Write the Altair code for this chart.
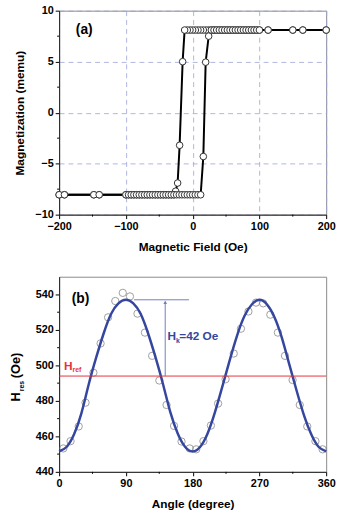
import altair as alt
import pandas as pd

# ---------------- Panel (a): hysteresis loop ----------------
desc_H = [200, 165, 150, 113, 100, 96, 92, 88, 84, 80, 76, 72, 68, 64, 60, 56, 52, 48, 44, 40,
          36, 32, 28, 24, 20, 16, 12, 8, 4, 0, -4, -8, -12, -15, -19.5, -22.5, -25.5,
          -28, -32, -36, -40, -44, -48, -52, -56, -60, -64, -68, -72, -76, -80, -84, -88, -92,
          -96, -100, -140, -148, -192, -200]
desc_M = [8.1] * 33 + [5.0, -3.2, -6.9, -7.7] + [-8.05] * 23

asc_H = [-200, -192, -148, -140, -100, -96, -92, -88, -84, -80, -76, -72, -68, -64, -60, -56,
         -52, -48, -44, -40, -36, -32, -28, -24, -20, -16, -12, -8, -4, 0, 4, 8, 12,
         16, 19.5, 24, 28, 32, 36, 40, 44, 48, 52, 56, 60, 64, 68, 72, 76, 80, 84, 88, 92, 96,
         100, 113, 150, 165, 200]
asc_M = [-8.05] * 33 + [-4.3, 4.95, 7.5] + [8.1] * 23

loop = pd.DataFrame({
    "H": desc_H + asc_H,
    "M": desc_M + asc_M,
    "branch": ["desc"] * len(desc_H) + ["asc"] * len(asc_H),
    "order": list(range(len(desc_H))) + list(range(len(asc_H))),
})

FONT = "Liberation Sans"
GRIDC = "#9aa3d6"

xa = alt.X("H:Q", scale=alt.Scale(domain=[-200, 200], nice=False),
           axis=alt.Axis(values=[-200, -100, 0, 100, 200], title="Magnetic Field (Oe)",
                         grid=True, gridColor=GRIDC, gridDash=[5, 4], gridWidth=0.8,
                         labelOverlap=False, labelFlush=False, tickCount=5))
ya = alt.Y("M:Q", scale=alt.Scale(domain=[-10, 10], nice=False),
           axis=alt.Axis(values=[-10, -5, 0, 5, 10], title="Magnetization (memu)",
                         grid=True, gridColor=GRIDC, gridDash=[5, 4], gridWidth=0.8,
                         labelOverlap=False, labelFlush=False, tickCount=5))

lines_a = alt.Chart(loop).mark_line(color="black", strokeWidth=2).encode(
    x=xa, y=ya, detail="branch:N", order="order:Q")
pts_a = alt.Chart(loop).mark_point(filled=True, fill="white", stroke="#333",
                                    strokeWidth=1, size=45, opacity=1).encode(
    x="H:Q", y="M:Q")

minor_x_a = [-150, -50, 50, 150]
minor_y_a = [-7.5, -2.5, 2.5, 7.5]
mx_a = alt.Chart(pd.DataFrame({"H": minor_x_a})).mark_rule(color="black").encode(
    x="H:Q", y=alt.value(207), y2=alt.value(209))
my_a = alt.Chart(pd.DataFrame({"M": minor_y_a})).mark_rule(color="black").encode(
    y="M:Q", x=alt.value(0), x2=alt.value(-2))
label_a = alt.Chart(pd.DataFrame({"t": ["(a)"], "H": [-175], "M": [8.1]})).mark_text(
    font=FONT, fontWeight="bold", fontSize=14, align="left", baseline="middle").encode(
    x="H:Q", y="M:Q", text="t:N")

panel_a = alt.layer(lines_a, pts_a, mx_a, my_a, label_a).properties(width=271, height=207)

# ---------------- Panel (b): FMR angular dependence ----------------
meas_angle = [5.7, 15.4, 26.4, 35.6, 46.2, 55.9, 66, 75.7, 85.8, 95.5, 105.6, 115.7, 125.4,
              135.1, 144.8, 154.9, 165, 176, 184.8, 194.5, 204.6, 214.3, 224.4, 235.4, 245.1,
              255.2, 265.4, 275.1, 284.7, 294.9, 304.5, 314.7, 324.4, 334.5, 345.5, 355.2]
meas_H = [453.2, 457.3, 465.6, 479, 495.9, 512.4, 527.1, 536.3, 540.9, 538.9, 529.2, 518.5,
          505.4, 491.5, 477.7, 465.9, 457.1, 453.2, 452.7, 457.3, 466.1, 478.5, 492.2, 506.7,
          520.7, 530.4, 535.4, 535, 528.6, 518.5, 505.4, 491.8, 477.7, 465.6, 457.3, 452.7]

fit_angle = [0, 10, 20, 30, 40, 50, 60, 70, 80, 90, 100, 110, 120, 130, 140, 150, 160, 170, 180,
             190, 200, 210, 220, 230, 240, 250, 260, 270, 280, 290, 300, 310, 320, 330, 340, 350, 360]
fit_H = [451.5, 454, 461, 473, 489.5, 504.5, 518, 529, 535, 537, 535, 529, 518, 504.5, 489.5,
         473.5, 461.5, 454, 451.5, 454, 461.5, 473.5, 488, 503, 517, 528, 534.5, 537, 534.5,
         527.5, 516, 501, 486, 472, 461, 454, 451.5]

H_ref = 494
H_k_top = 537

meas = pd.DataFrame({"angle": meas_angle, "Hr": meas_H})
fit = pd.DataFrame({"angle": fit_angle, "Hr": fit_H})

BLUE = "#34469e"
RED = "#e8323c"
ABLUE = "#6f7fbf"
xb = alt.X("angle:Q", scale=alt.Scale(domain=[0, 360], nice=False),
           axis=alt.Axis(values=[0, 90, 180, 270, 360], title="Angle (degree)", grid=False,
                         labelOverlap=False, labelFlush=False, tickCount=5))
yb = alt.Y("Hr:Q", scale=alt.Scale(domain=[440, 550], nice=False),
           axis=alt.Axis(values=[440, 460, 480, 500, 520, 540], title=None, grid=False,
                         labelOverlap=False, labelFlush=False, tickCount=6))

pts_b = alt.Chart(meas).mark_point(filled=False, color="#777", strokeWidth=1, size=55).encode(
    x=xb, y=yb)
fit_b = alt.Chart(fit).mark_line(color=BLUE, strokeWidth=2.5, interpolate="natural").encode(
    x="angle:Q", y="Hr:Q")

def seg(a1, a2, h1, h2, color):
    return alt.Chart(pd.DataFrame({"a1": [a1], "a2": [a2], "h1": [h1], "h2": [h2]})).mark_rule(
        color=color, strokeWidth=1).encode(x="a1:Q", x2="a2", y="h1:Q", y2="h2")

ref_b = seg(0, 360, H_ref, H_ref, RED)
hk_h = seg(101, 175, H_k_top, H_k_top, ABLUE)
hk_v = seg(143, 143, H_ref, H_k_top - 1, ABLUE)
hk_arrow = alt.Chart(pd.DataFrame({"angle": [143], "Hr": [H_k_top - 1.5]})).mark_point(
    shape="triangle-up", filled=True, color=ABLUE, size=14, opacity=1).encode(
    x="angle:Q", y="Hr:Q")

def txt(t, x, y, size, color):
    return alt.Chart(pd.DataFrame({"t": [t], "angle": [x], "Hr": [y]})).mark_text(
        font=FONT, fontWeight="bold", fontSize=size, color=color, align="left",
        baseline="middle").encode(x="angle:Q", y="Hr:Q", text="t:N")

label_b = txt("(b)", 17, 537.5, 14, "black")
hk_H = txt("H", 146, 516.8, 12, BLUE)
hk_k = txt("k", 157.5, 513.8, 7, BLUE)
hk_rest = txt("=42 Oe", 162, 516.8, 12, BLUE)
ref_H = txt("H", 6.5, 499.7, 12, RED)
ref_sub = txt("ref", 18, 497.3, 7, RED)

# rotated y-axis title "H_res (Oe)"
def ytxt(t, x, y, size):
    return alt.Chart(pd.DataFrame({"t": [t]})).mark_text(
        font=FONT, fontWeight="bold", fontSize=size, color="black", angle=270,
        align="center", baseline="middle").encode(x=alt.value(x), y=alt.value(y), text="t:N")

yt_H = ytxt("H", -44, 122, 13)
yt_sub = ytxt("res", -38, 111, 7)
yt_rest = ytxt("(Oe)", -44, 90, 13)

minor_x_b = [45, 135, 225, 315]
minor_y_b = [450, 470, 490, 510, 530]
mx_b = alt.Chart(pd.DataFrame({"angle": minor_x_b})).mark_rule(color="black").encode(
    x="angle:Q", y=alt.value(198), y2=alt.value(200))
my_b = alt.Chart(pd.DataFrame({"Hr": minor_y_b})).mark_rule(color="black").encode(
    y="Hr:Q", x=alt.value(0), x2=alt.value(-2))

panel_b = alt.layer(pts_b, fit_b, ref_b, hk_h, hk_v, hk_arrow, label_b, hk_H, hk_k, hk_rest,
                    ref_H, ref_sub, yt_H, yt_sub, yt_rest, mx_b, my_b).properties(
    width=271, height=198)

chart = alt.vconcat(panel_a, panel_b, spacing=63, bounds="flush").properties(
    padding={"left": 9, "top": 0, "right": 2, "bottom": 3}
).configure_view(stroke="#8a8a8a", strokeWidth=1).configure_axis(
    labelFont=FONT, labelFontWeight="bold", labelFontSize=11, labelColor="black",
    titleFont=FONT, titleFontWeight="bold", titleFontSize=12, titleColor="black",
    tickColor="black", tickSize=4, domainColor="#222", labelPadding=2, titlePadding=8,
    labelOverlap=False, labelFlush=False
).configure_axisX(titlePadding=10)

chart.save("out.html", embed_options={"renderer": "svg", "actions": False})
